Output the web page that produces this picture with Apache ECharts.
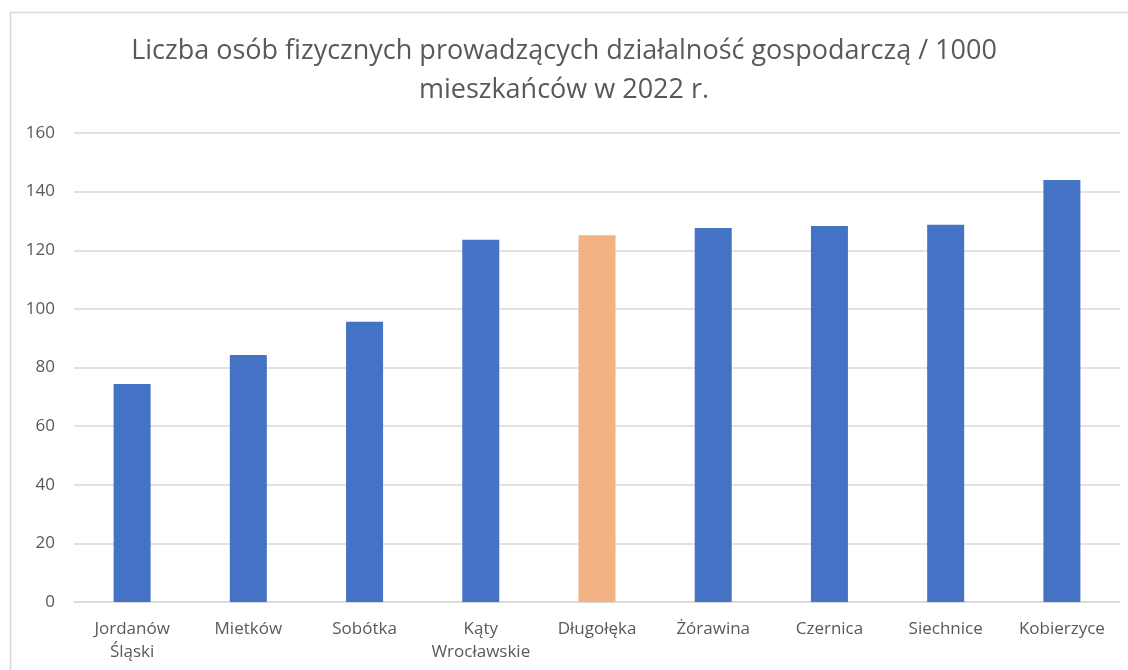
<!DOCTYPE html>
<html>
<head>
<meta charset="utf-8">
<style>
    html, body { margin: 0; padding: 0; background: #fff; }
    #chart { width: 1128px; height: 670px; }
</style>
<script src="https://cdn.jsdelivr.net/npm/echarts@6/dist/echarts.min.js"></script>
</head>
<body>
<div id="chart"></div>
<script>
// gminy
var categories = ['Jordanów\nŚląski', 'Mietków', 'Sobótka', 'Kąty\nWrocławskie', 'Długołęka',
    'Żórawina', 'Czernica', 'Siechnice', 'Kobierzyce'];
var values = [74.4, 84.3, 95.6, 123.6, 125.1, 127.6, 128.3, 128.7, 144.0];
var highlighted = 'Długołęka';
var titleText = 'Liczba osób fizycznych prowadzących działalność gospodarczą / 1000\nmieszkańców w 2022 r.';

var fontStack = '"Open Sans", sans-serif';

var chart = echarts.init(document.getElementById('chart'));
var option = {
    animation: false,
    title: {
        text: titleText,
        left: 'center',
        top: 27,
        textStyle: {
            fontFamily: fontStack,
            fontSize: 27,
            fontWeight: 'normal',
            color: '#595959',
            lineHeight: 39
        }
    },
    graphic: [{
        type: 'rect',
        shape: { x: 10.5, y: 12.5, width: 1130, height: 680 },
        style: { fill: 'none', stroke: '#d9d9d9', lineWidth: 1.5 },
        silent: true
    }],
    grid: {
        left: 74,
        right: 8,
        top: 133,
        bottom: 68
    },
    xAxis: {
        type: 'category',
        data: categories,
        axisLine: { lineStyle: { color: '#d9d9d9', width: 1.5 } },
        axisTick: { show: false },
        axisLabel: {
            color: '#595959',
            fontFamily: fontStack,
            fontSize: 17,
            lineHeight: 23,
            margin: 16,
            interval: 0
        }
    },
    yAxis: {
        type: 'value',
        min: 0,
        max: 160,
        interval: 20,
        axisLine: { show: false },
        axisTick: { show: false },
        axisLabel: {
            color: '#595959',
            fontFamily: fontStack,
            fontSize: 17,
            margin: 19
        },
        splitLine: { lineStyle: { color: '#d9d9d9', width: 1.5 } }
    },
    series: [{
        type: 'bar',
        barWidth: 37,
        data: values.map(function (v, i) {
            return {
                value: v,
                itemStyle: {
                    color: categories[i] === highlighted ? '#F4B183' : '#4472C4'
                }
            };
        })
    }]
};
chart.setOption(option);
</script>
</body>
</html>
